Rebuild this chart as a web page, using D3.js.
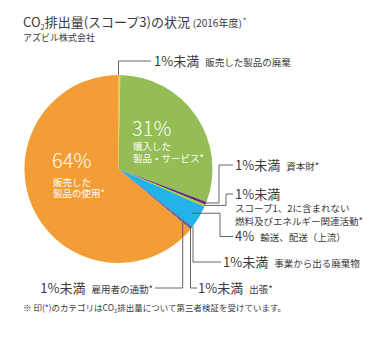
<!DOCTYPE html>
<html><head><meta charset="utf-8">
<script src="https://cdn.jsdelivr.net/npm/d3@7/dist/d3.min.js"></script>
<style>
html,body{margin:0;padding:0;background:#fff;}
svg{display:block;font-family:"Noto Sans CJK JP","Noto Sans",sans-serif;}
</style></head>
<body><svg id="c" width="372" height="357"></svg>
<script>
// ---- data (clockwise from 12 o'clock) ----
const categories = ["販売した製品の廃棄","購入した製品・サービス*","資本財*","スコープ1、2に含まれない燃料及びエネルギー関連活動*","輸送、配送（上流）","事業から出る廃棄物","出張*","雇用者の通勤*","販売した製品の使用*"];
const values = [0.3, 30.4, 0.5, 0.4, 4.0, 0.15, 0.15, 0.15, 63.95];
const pctLabels = ["1%未満","31%","1%未満","1%未満","4%","1%未満","1%未満","1%未満","64%"];
const colors = ["#F2D027","#95BD56","#5E2D82","#B6CB1E","#22B4E8","#4B3F7E","#6A4C8C","#3F3A6E","#F39D37"];
const insideLines = [null,["購入した","製品・サービス*"],null,null,null,null,null,null,["販売した","製品の使用*"]];
const outsideDesc = [["販売した製品の廃棄"],null,["資本財*"],["スコープ1、2に含まれない","燃料及びエネルギー関連活動*"],["輸送、配送（上流）"],["事業から出る廃棄物"],["出張*"],["雇用者の通勤*"],null];

const svg = d3.select("#c");
const cx = 118.5, cy = 169, R = 94;
const txt = "#3a3a3a", lineC = "#555";

// title
const t = svg.append("text").attr("x",23).attr("y",27).attr("fill",txt).attr("font-size",13);
t.append("tspan").text("CO");
t.append("tspan").attr("font-size",7.5).attr("dy",2.5).text("2");
t.append("tspan").attr("dy",-2.5).text("排出量(スコープ3)の状況 ");
t.append("tspan").attr("font-size",10).text("(2016年度)");
t.append("tspan").attr("font-size",8).attr("dy",-3).attr("dx",1).text("*");
svg.append("text").attr("x",23).attr("y",41).attr("fill",txt).attr("font-size",9).text("アズビル株式会社");

// pie
const pie = d3.pie().sort(null).value(d=>d)(values);
const arc = d3.arc().innerRadius(0).outerRadius(R);
const g = svg.append("g").attr("transform",`translate(${cx},${cy})`);
g.selectAll("path").data(pie).join("path").attr("d",arc).attr("fill",(d,i)=>colors[i]);

// inside labels (one text element per slice)
const inPos = {1:{x:133,y:136,d1:14,sp:12}, 8:{x:53,y:168,d1:17.5,sp:11.5}};
[1,8].forEach(i=>{
  const p = inPos[i];
  const tx = svg.append("text").attr("x",p.x-1).attr("y",p.y).attr("fill","#fff");
  tx.append("tspan").attr("font-size",20).attr("font-weight",300).text(pctLabels[i]);
  insideLines[i].forEach((s,k)=>{
    tx.append("tspan").attr("x",p.x).attr("dy",k===0?p.d1:p.sp).attr("font-size",9.5).text(s);
  });
});

// leader helpers
const mid = d => (d.startAngle+d.endAngle)/2;
const pt = (a,r)=>[cx+r*Math.sin(a), cy-r*Math.cos(a)];
function leader(pts){
  svg.append("path").attr("d",d3.line()(pts)).attr("fill","none").attr("stroke",lineC).attr("stroke-width",0.9);
}
function label(i,x,y){
  const tx = svg.append("text").attr("x",x).attr("y",y).attr("fill",txt);
  tx.append("tspan").attr("font-size",13).text(pctLabels[i]);
  tx.append("tspan").attr("font-size",9.5).attr("dx",6).text(outsideDesc[i][0]);
}

// 0: top
{ const a = pie[0].startAngle; const p0 = pt(a,R);
  leader([p0,[p0[0],61],[151,61]]); label(0,154,66); }
// 2: 資本財
{ const p0 = pt(mid(pie[2]),R-1); leader([p0,[219,p0[1]],[219,165],[233,165]]); label(2,235,170); }
// 3: scope (three lines)
{ const p0 = pt(mid(pie[3]),R-1); leader([p0,[226,p0[1]],[226,194],[233,194]]);
  const tx = svg.append("text").attr("x",235).attr("y",199).attr("fill",txt);
  tx.append("tspan").attr("font-size",13).text(pctLabels[3]);
  outsideDesc[3].forEach((s,k)=>tx.append("tspan").attr("x",235).attr("dy",k===0?13:12.5).attr("font-size",9.5).text(s)); }
// 4: transport
{ const p0 = pt(mid(pie[4]),86); leader([p0,[220,p0[1]],[220,236.5],[233,236.5]]); label(4,235,241); }
// 5,6,7: vertical leaders
function vstart(i,x){ const a = mid(pie[i]); let tt = (x-cx)/Math.sin(a); tt=Math.min(tt,R-1); return [x, cy - tt*Math.cos(a)]; }
{ const p0 = vstart(5,193); leader([p0,[193,262],[221,262]]); label(5,223,266.5); }
{ const p0 = vstart(6,190.5); leader([p0,[190.5,288],[197,288]]); label(6,198,292.5); }
{ const p0 = vstart(7,182.7); leader([p0,[182.7,288],[155,288]]);
  const tx = svg.append("text").attr("x",153).attr("y",292.5).attr("fill",txt).attr("text-anchor","end");
  tx.append("tspan").attr("font-size",13).text(pctLabels[7]);
  tx.append("tspan").attr("font-size",9.5).attr("dx",6).text(outsideDesc[7][0]); }

// footnote
const f = svg.append("text").attr("x",23).attr("y",311).attr("fill",txt).attr("font-size",8.5);
f.append("tspan").text("※ 印(*)のカテゴリはCO");
f.append("tspan").attr("font-size",5.5).attr("dy",2).text("2");
f.append("tspan").attr("dy",-2).text("排出量について第三者検証を受けています。");
</script></body></html>
